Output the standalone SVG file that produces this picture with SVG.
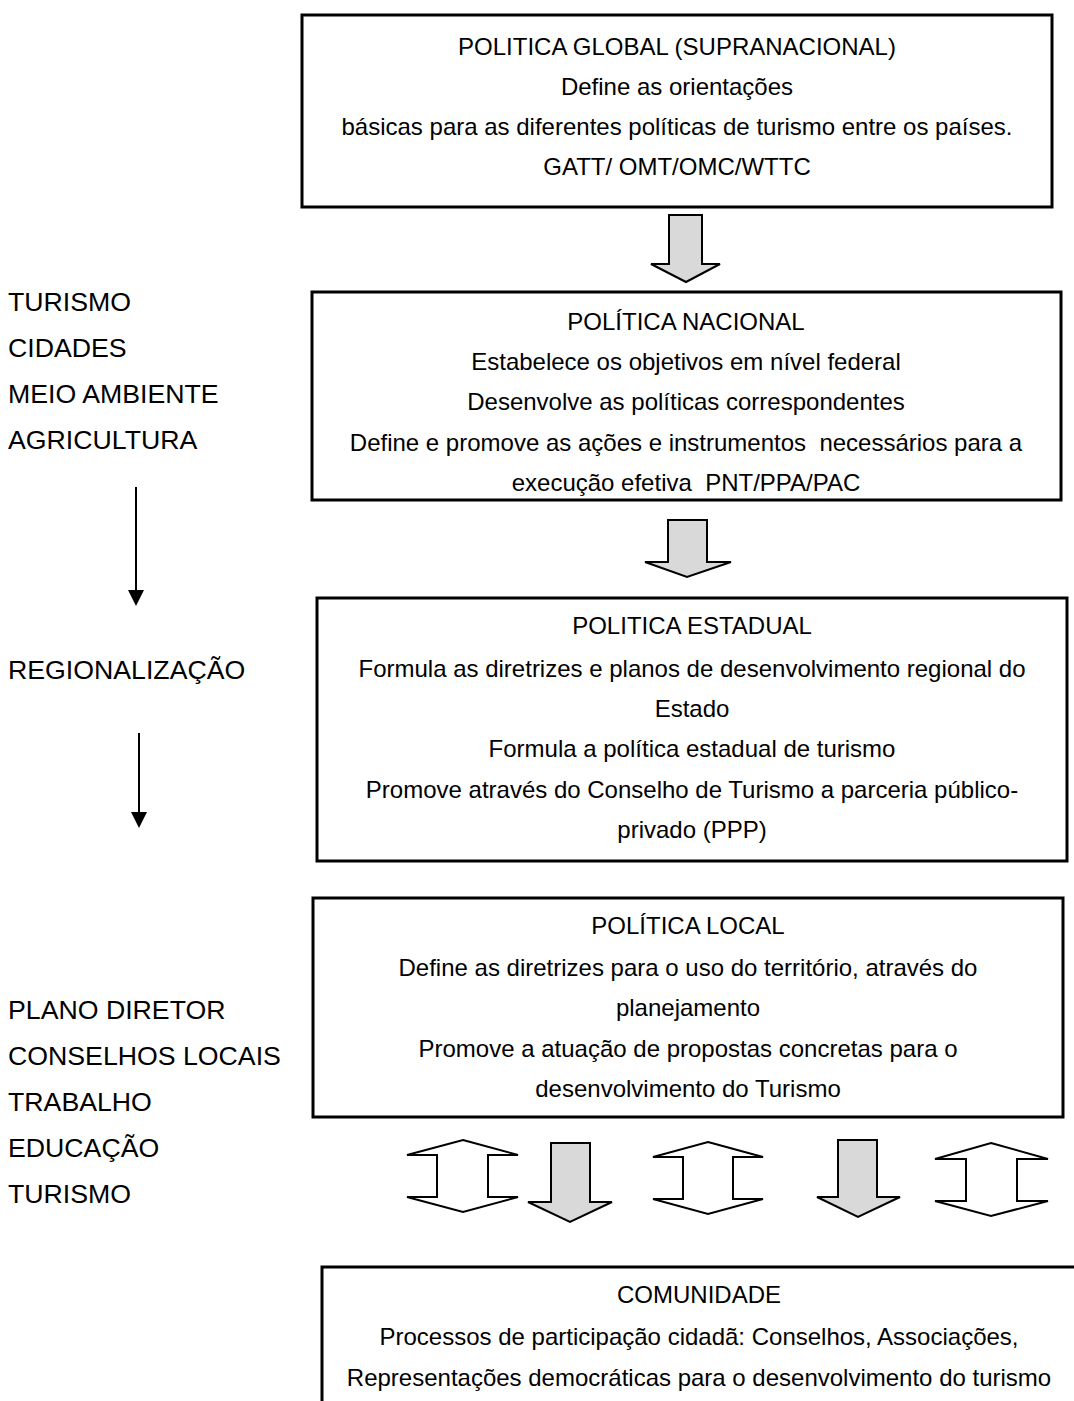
<svg xmlns="http://www.w3.org/2000/svg" width="1074" height="1401" viewBox="0 0 1074 1401">
<style>
.box{fill:#fff;stroke:#000;stroke-width:3}
.t{font-family:"Liberation Sans",Arial,sans-serif;font-size:24px;fill:#000;text-anchor:middle}
.l{font-family:"Liberation Sans",Arial,sans-serif;font-size:26.7px;fill:#000}
.down{fill:#d9d9d9;stroke:#000;stroke-width:2;stroke-linejoin:miter}
.dbl{fill:#fff;stroke:#000;stroke-width:2}
.ln{stroke:#000;stroke-width:2;fill:none}
</style>
<rect width="1074" height="1401" fill="#fff"/>
<g id="labels-left">
<text class="l" x="8" y="311">TURISMO</text>
<text class="l" x="8" y="357">CIDADES</text>
<text class="l" x="8" y="403">MEIO AMBIENTE</text>
<text class="l" x="8" y="449">AGRICULTURA</text>
<text class="l" x="8" y="679">REGIONALIZAÇÃO</text>
<text class="l" x="8" y="1019">PLANO DIRETOR</text>
<text class="l" x="8" y="1065">CONSELHOS LOCAIS</text>
<text class="l" x="8" y="1111">TRABALHO</text>
<text class="l" x="8" y="1157">EDUCAÇÃO</text>
<text class="l" x="8" y="1203">TURISMO</text>
</g>
<g id="node-global">
<rect class="box" x="302" y="15" width="750" height="192"/>
<text class="t" x="677" y="55">POLITICA GLOBAL (SUPRANACIONAL)</text>
<text class="t" x="677" y="95">Define as orientações</text>
<text class="t" x="677" y="135">básicas para as diferentes políticas de turismo entre os países.</text>
<text class="t" x="677" y="175">GATT/ OMT/OMC/WTTC</text>
</g>
<g id="node-nacional">
<rect class="box" x="312" y="292" width="749" height="208"/>
<text class="t" x="686" y="330">POLÍTICA NACIONAL</text>
<text class="t" x="686" y="370">Estabelece os objetivos em nível federal</text>
<text class="t" x="686" y="410">Desenvolve as políticas correspondentes</text>
<text class="t" x="686" y="451" xml:space="preserve">Define e promove as ações e instrumentos  necessários para a</text>
<text class="t" x="686" y="491" xml:space="preserve">execução efetiva  PNT/PPA/PAC</text>
</g>
<g id="node-estadual">
<rect class="box" x="317" y="598" width="750" height="263"/>
<text class="t" x="692" y="634">POLITICA ESTADUAL</text>
<text class="t" x="692" y="677">Formula as diretrizes e planos de desenvolvimento regional do</text>
<text class="t" x="692" y="717">Estado</text>
<text class="t" x="692" y="757">Formula a política estadual de turismo</text>
<text class="t" x="692" y="798">Promove através do Conselho de Turismo a parceria público-</text>
<text class="t" x="692" y="838">privado (PPP)</text>
</g>
<g id="node-local">
<rect class="box" x="313" y="898" width="750" height="219"/>
<text class="t" x="688" y="934">POLÍTICA LOCAL</text>
<text class="t" x="688" y="976">Define as diretrizes para o uso do território, através do</text>
<text class="t" x="688" y="1016">planejamento</text>
<text class="t" x="688" y="1057">Promove a atuação de propostas concretas para o</text>
<text class="t" x="688" y="1097">desenvolvimento do Turismo</text>
</g>
<g id="node-comunidade">
<rect class="box" x="322" y="1267" width="756" height="150"/>
<text class="t" x="699" y="1303">COMUNIDADE</text>
<text class="t" x="699" y="1345">Processos de participação cidadã: Conselhos, Associações,</text>
<text class="t" x="699" y="1386">Representações democráticas para o desenvolvimento do turismo</text>
</g>
<g id="connectors">
<polygon class="down" points="669,215 702,215 702,264 720,264 686,282 651,264 669,264"/>
<polygon class="down" points="668,520 707,520 707,562 731,562 687,577 645,562 668,562"/>
<polygon class="dbl" points="463,1140 518,1155 488,1155 488,1197 518,1197 463,1212 407,1197 437,1197 437,1155 407,1155"/>
<polygon class="down" points="551,1143 590,1143 590,1202 612,1202 570,1222 528,1202 551,1202"/>
<polygon class="dbl" points="708,1142 763,1157 733,1157 733,1199 763,1199 708,1214 653,1199 683,1199 683,1157 653,1157"/>
<polygon class="down" points="838,1140 877,1140 877,1197 900,1197 858,1217 817,1197 838,1197"/>
<polygon class="dbl" points="991,1143 1048,1159 1017,1159 1017,1201 1048,1201 991,1216 935,1201 966,1201 966,1159 935,1159"/>
<line class="ln" x1="136" y1="487" x2="136" y2="592"/>
<polygon points="128,590 144,590 136,606" fill="#000"/>
<line class="ln" x1="139" y1="733" x2="139" y2="814"/>
<polygon points="131,812 147,812 139,828" fill="#000"/>
</g>
</svg>
